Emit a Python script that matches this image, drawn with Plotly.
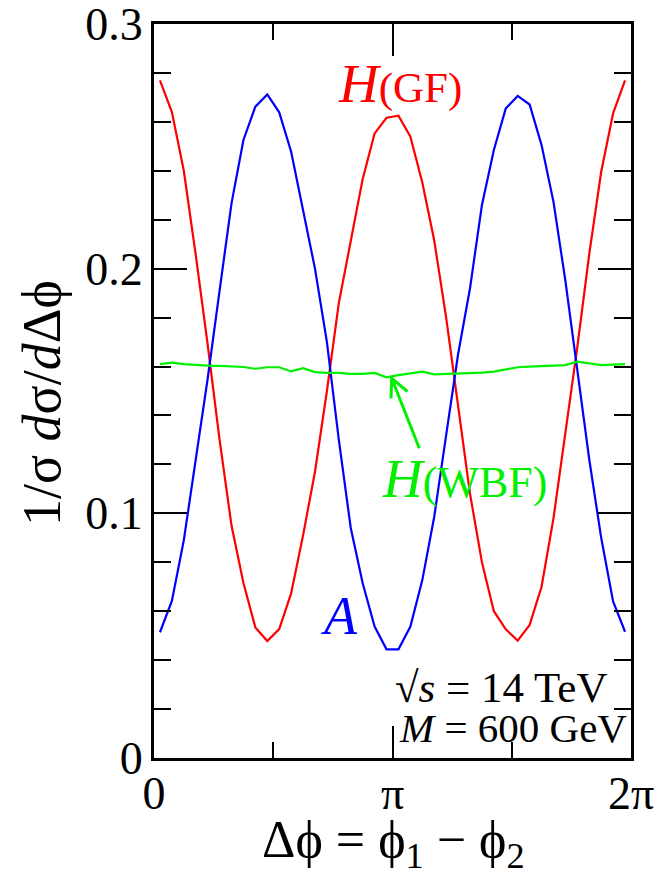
import numpy as np
import plotly.graph_objects as go

# ---- data (40 bins over 0..2pi) ----
n_bins = 40
phi = [(i + 0.5) * 2 * np.pi / n_bins for i in range(n_bins)]

h_gf = [0.277, 0.264, 0.240, 0.2056, 0.169, 0.130, 0.095, 0.0715, 0.0534, 0.0478,
        0.0527, 0.0673, 0.091, 0.117, 0.150, 0.186, 0.2113, 0.2367, 0.2553, 0.2617,
        0.2625, 0.2539, 0.2352, 0.2115, 0.180, 0.145, 0.108, 0.080, 0.060, 0.0526,
        0.048, 0.0544, 0.070, 0.098, 0.132, 0.168, 0.206, 0.2396, 0.2635, 0.277]

a_higgs = [0.0514, 0.0642, 0.089, 0.121, 0.155, 0.191, 0.2267, 0.2526, 0.2662, 0.2712,
           0.2639, 0.2478, 0.224, 0.200, 0.170, 0.130, 0.094, 0.0714, 0.0537, 0.0444,
           0.0444, 0.0537, 0.0727, 0.0986, 0.132, 0.165, 0.192, 0.226, 0.2485, 0.2655,
           0.2706, 0.2671, 0.2505, 0.2273, 0.195, 0.158, 0.122, 0.090, 0.064, 0.0516]

h_wbf = [0.1610, 0.1616, 0.1610, 0.1606, 0.1604, 0.1603, 0.1602, 0.1598, 0.1591, 0.1597,
         0.1597, 0.1580, 0.1593, 0.1577, 0.1574, 0.1574, 0.1570, 0.1570, 0.1574, 0.1556,
         0.1565, 0.1572, 0.1579, 0.1568, 0.1569, 0.1570, 0.1572, 0.1575, 0.1579, 0.1588,
         0.1597, 0.1600, 0.1602, 0.1604, 0.1606, 0.1620, 0.1613, 0.1606, 0.1608, 0.1610]

x_tickvals = [0, np.pi, 2 * np.pi]
x_ticktext = ["0", "π", "2π"]
y_tickvals = [0, 0.1, 0.2, 0.3]
y_ticktext = ["0", "0.1", "0.2", "0.3"]

FONT = "Times New Roman, Liberation Serif, Times, DejaVu Serif, serif"
RED, BLUE, GREEN = "#ff0000", "#0000ff", "#00f000"

# layout geometry (pixels)
W, H = 659, 874
ML, MR, MT, MB = 154, 28, 24, 116
PW, PH = W - ML - MR, H - MT - MB


def px_x(px):
    return (px - ML) / PW * 2 * np.pi


def px_y(py):
    return (H - MB - py) / PH * 0.3


fig = go.Figure()
for y, c in [(h_gf, RED), (a_higgs, BLUE), (h_wbf, GREEN)]:
    fig.add_trace(go.Scatter(x=phi, y=y, mode="lines",
                             line=dict(color=c, width=2.2), showlegend=False))

axis_common = dict(showline=True, linewidth=3, linecolor="black", mirror="ticks",
                   ticks="inside", tickwidth=2, tickcolor="black",
                   showgrid=False, zeroline=False, automargin=False,
                   ticklabeloverflow="allow",
                   tickfont=dict(family=FONT, size=46, color="black"))

fig.update_xaxes(range=[0, 2 * np.pi], tickvals=x_tickvals, ticktext=x_ticktext,
                 ticklen=32, ticklabelstandoff=-7,
                 minor=dict(tickvals=[np.pi / 2, 3 * np.pi / 2], ticklen=16,
                            tickwidth=2, tickcolor="black", ticks="inside"),
                 **axis_common)
fig.update_yaxes(range=[0, 0.3], tickvals=y_tickvals, ticktext=y_ticktext,
                 ticklen=33, ticklabelstandoff=-1,
                 minor=dict(dtick=0.02, ticklen=17, tickwidth=2,
                            tickcolor="black", ticks="inside"),
                 **axis_common)

ann = []
ann.append(dict(x=(42 - ML) / PW, y=(H - MB - 403) / PH, xref="paper", yref="paper",
                text="1/σ <i>d</i>σ/<i>d</i>Δϕ", textangle=-90, showarrow=False,
                font=dict(family=FONT, size=54, color="black"),
                xanchor="center", yanchor="middle"))
ann.append(dict(x=(393 - ML) / PW, y=(H - MB - 843) / PH, xref="paper", yref="paper",
                text="Δϕ = ϕ<sub>1</sub> − ϕ<sub>2</sub>", showarrow=False,
                font=dict(family=FONT, size=52, color="black"),
                xanchor="center", yanchor="middle"))
ann.append(dict(x=px_x(400), y=px_y(83), text="<span style='font-size:55px'><i>H</i></span>(GF)",
                showarrow=False, font=dict(family=FONT, size=43, color=RED),
                xanchor="center", yanchor="middle"))
ann.append(dict(x=px_x(339), y=px_y(616), text="<i>A</i>", showarrow=False,
                font=dict(family=FONT, size=54, color=BLUE),
                xanchor="center", yanchor="middle"))
ann.append(dict(x=px_x(464), y=px_y(478), text="<span style='font-size:55px'><i>H</i></span>(WBF)",
                showarrow=False, font=dict(family=FONT, size=44, color=GREEN),
                xanchor="center", yanchor="middle"))
ann.append(dict(x=px_x(609), y=px_y(687), text="√<i>s</i> = 14 TeV", showarrow=False,
                font=dict(family=FONT, size=43, color="black"),
                xanchor="right", yanchor="middle"))
ann.append(dict(x=px_x(629), y=px_y(728), text="<i>M</i> = 600 GeV", showarrow=False,
                font=dict(family=FONT, size=41, color="black"),
                xanchor="right", yanchor="middle"))

# arrow pointing at H(WBF) curve
tip = (391.7, 378.3)
tail = (419.3, 448.3)
b1 = (391.0, 398.5)
b2 = (407.5, 391.5)
path = (f"M{px_x(tail[0])},{px_y(tail[1])} L{px_x(tip[0])},{px_y(tip[1])} "
        f"M{px_x(b1[0])},{px_y(b1[1])} L{px_x(tip[0])},{px_y(tip[1])} "
        f"L{px_x(b2[0])},{px_y(b2[1])}")
fig.add_shape(type="path", path=path, xref="x", yref="y",
              line=dict(color=GREEN, width=3))

fig.update_layout(width=W, height=H, margin=dict(l=ML, r=MR, t=MT, b=MB, autoexpand=False),
                  paper_bgcolor="white", plot_bgcolor="white",
                  annotations=ann, font=dict(family=FONT))

fig.write_html("out.html", config={"displayModeBar": False},
               post_script="document.body.style.margin='0';document.body.style.overflow='hidden';")
